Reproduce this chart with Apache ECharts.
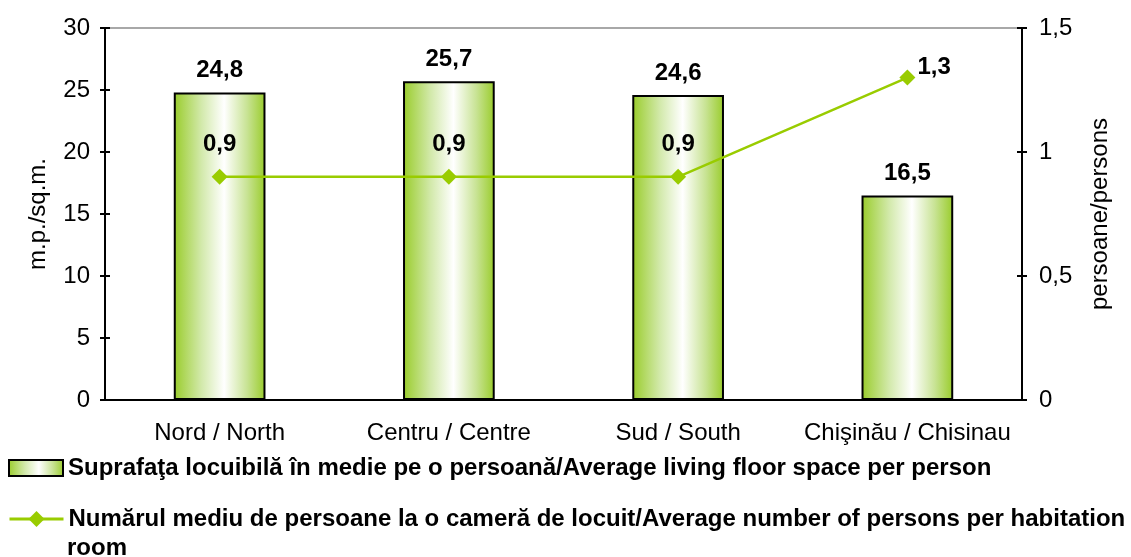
<!DOCTYPE html>
<html>
<head>
<meta charset="utf-8">
<script src="https://cdn.jsdelivr.net/npm/echarts@6/dist/echarts.min.js"></script>
<style>
html, body { margin: 0; padding: 0; background: #fff; }
#chart { width: 1131px; height: 557px; }
</style>
</head>
<body>
<div id="chart"></div>
<script>
// categorii / regiuni
var regions = ["Nord / North", "Centru / Centre", "Sud / South", "Chişinău / Chisinau"];
// suprafata locuibila (m.p.)
var floorSpace = [24.8, 25.7, 24.6, 16.5];
// persoane la o camera
var personsPerRoom = [0.9, 0.9, 0.9, 1.3];
// etichete axe
var leftTicks = [0, 5, 10, 15, 20, 25, 30];
var rightTicks = [0, 0.5, 1, 1.5];

var barName = "Suprafaţa locuibilă în medie pe o persoană/Average living floor space per person";
var lineName = "Numărul mediu de persoane la o cameră de locuit/Average number of persons per habitation room";

var green = "#99cc00";
var font = "Liberation Sans, Arial, sans-serif";
var fs = 24;

function comma(v) {
    return String(v).replace(".", ",");
}

var barFill = new echarts.graphic.LinearGradient(0, 0, 1, 0, [
    { offset: 0, color: "#99cc2a" },
    { offset: 0.3, color: "#d2e9aa" },
    { offset: 0.55, color: "#ffffff" },
    { offset: 0.8, color: "#c8e394" },
    { offset: 1, color: "#99cc2a" }
]);

var legendText = { fontSize: fs, fontWeight: "bold", color: "#000", fontFamily: font };

// numele lung al liniei se rupe pe doua randuri
var lineNameFirst = lineName.slice(0, lineName.lastIndexOf(" "));
var lineNameRest = lineName.slice(lineName.lastIndexOf(" ") + 1);

var myChart = echarts.init(document.getElementById("chart"));
var option = {
    animation: false,
    textStyle: { fontFamily: font },
    grid: {
        left: 105, right: 109, top: 28, bottom: 157,
        show: true, borderColor: "#8c8c8c", borderWidth: 1.5
    },
    legend: [{
        left: 8, top: 456, padding: 0,
        itemWidth: 54, itemHeight: 16,
        icon: "rect",
        textStyle: legendText,
        data: [barName]
    }, {
        left: 8, top: 507, padding: 0,
        itemWidth: 54, itemHeight: 20,
        textStyle: legendText,
        lineStyle: { width: 3 },
        formatter: function () { return lineNameFirst; },
        data: [lineName]
    }],
    graphic: [{
        type: "text",
        left: 67, top: 536,
        style: { text: lineNameRest, fontSize: fs, fontWeight: "bold", fill: "#000", fontFamily: font }
    }],
    xAxis: [{
        type: "category",
        data: regions,
        axisLine: { lineStyle: { color: "#000", width: 2 } },
        axisTick: { length: 5, lineStyle: { color: "#000", width: 2 } },
        axisLabel: { interval: 0, fontSize: fs, color: "#000", margin: 21, fontFamily: font }
    }, {
        type: "category",
        data: regions,
        position: "bottom",
        axisLine: { show: false },
        axisTick: { inside: true, length: 5, lineStyle: { color: "#000", width: 2 } },
        axisLabel: { show: false }
    }],
    yAxis: [{
        type: "value",
        min: leftTicks[0], max: leftTicks[leftTicks.length - 1], interval: 5,
        name: "m.p./sq.m.",
        nameLocation: "middle", nameGap: 55,
        nameTextStyle: { fontSize: fs, color: "#000", fontFamily: font },
        axisLine: { show: true, lineStyle: { color: "#000", width: 2 } },
        axisTick: { show: true, length: 5, lineStyle: { color: "#000", width: 2 } },
        axisLabel: { fontSize: fs, color: "#000", margin: 15, fontFamily: font },
        splitLine: { show: false }
    }, {
        type: "value",
        min: rightTicks[0], max: rightTicks[rightTicks.length - 1], interval: 0.5,
        position: "right",
        name: "persoane/persons",
        nameLocation: "middle", nameGap: 66, nameRotate: 90,
        nameTextStyle: { fontSize: fs, color: "#000", fontFamily: font },
        axisLine: { show: true, lineStyle: { color: "#000", width: 2 } },
        axisTick: { show: true, length: 5, lineStyle: { color: "#000", width: 2 } },
        axisLabel: { fontSize: fs, color: "#000", margin: 17, fontFamily: font, formatter: comma },
        splitLine: { show: false }
    }, {
        // tick-uri interioare stanga
        type: "value", min: 0, max: 30, interval: 5, position: "left",
        axisLine: { show: false }, axisLabel: { show: false }, splitLine: { show: false },
        axisTick: { show: true, inside: true, length: 5, lineStyle: { color: "#000", width: 2 } }
    }, {
        // tick-uri interioare dreapta
        type: "value", min: 0, max: 1.5, interval: 0.5, position: "right",
        axisLine: { show: false }, axisLabel: { show: false }, splitLine: { show: false },
        axisTick: { show: true, inside: true, length: 5, lineStyle: { color: "#000", width: 2 } }
    }],
    series: [{
        name: barName,
        type: "bar",
        data: floorSpace,
        barWidth: "40%",
        itemStyle: { color: barFill, borderColor: "#000", borderWidth: 2 },
        label: {
            show: true, position: "top", distance: 10,
            fontSize: fs, fontWeight: "bold", color: "#000", fontFamily: font,
            formatter: function (p) { return comma(p.value); }
        }
    }, {
        name: lineName,
        type: "line",
        yAxisIndex: 1,
        data: personsPerRoom.map(function (v, i) {
            if (i === personsPerRoom.length - 1) {
                return { value: v, label: { position: "right", distance: 2, offset: [0, -10] } };
            }
            return v;
        }),
        symbol: "diamond",
        symbolSize: 16,
        lineStyle: { color: green, width: 2.5 },
        itemStyle: { color: green },
        label: {
            show: true, position: "top", distance: 12,
            fontSize: fs, fontWeight: "bold", color: "#000", fontFamily: font,
            formatter: function (p) { return comma(p.value); }
        }
    }]
};
myChart.setOption(option);
</script>
</body>
</html>
